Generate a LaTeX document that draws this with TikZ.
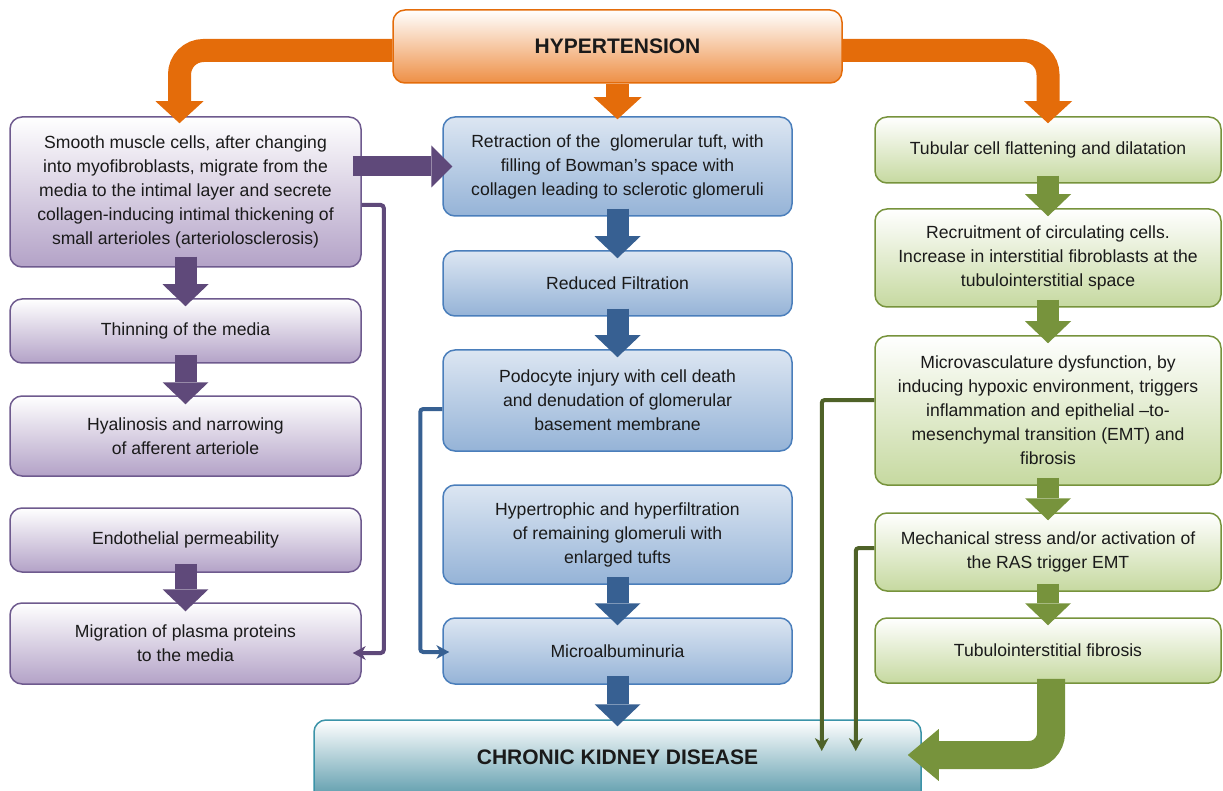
\documentclass[tikz,border=0pt]{standalone}
\usepackage{fontspec}
\setmainfont{Liberation Sans}
\usetikzlibrary{arrows.meta}
\definecolor{txt}{HTML}{1A1A1A}
\definecolor{orng}{HTML}{E46C0A}
\definecolor{hbot}{HTML}{EE8F45}
\definecolor{pbord}{HTML}{6E5A8E}
\definecolor{pbot}{HTML}{B3A2C7}
\definecolor{parr}{HTML}{5F497A}
\definecolor{bbord}{HTML}{4A7EBB}
\definecolor{btop}{HTML}{DCE6F2}
\definecolor{bbot}{HTML}{95B3D7}
\definecolor{barr}{HTML}{376092}
\definecolor{gbord}{HTML}{77933C}
\definecolor{gbot}{HTML}{C6D9A0}
\definecolor{garr}{HTML}{77933C}
\definecolor{cGthin}{HTML}{4F6228}
\definecolor{cbord}{HTML}{3B93A8}
\definecolor{cbot}{HTML}{2E7F94}
\tikzset{
 box/.style={rounded corners=12pt, line width=1.5pt, align=center, font=\fontsize{17.6}{24}\selectfont, text=txt, inner sep=0pt},
 pbox/.style={box, draw=pbord, top color=white, bottom color=pbot, minimum width=351pt},
 bbox/.style={box, draw=bbord, top color=btop, bottom color=bbot, minimum width=349pt},
 gbox/.style={box, draw=gbord, top color=white, bottom color=gbot, minimum width=346pt},
 hbox/.style={box, draw=orng, top color=white, bottom color=hbot, minimum width=449pt, minimum height=73pt, font=\bfseries\fontsize{21}{25}\selectfont},
 cbox/.style={box, draw=cbord, top color=white, bottom color=cbot, minimum width=607pt, minimum height=100pt, font=\bfseries\fontsize{21}{25}\selectfont, text height=15pt, text depth=26pt},
 blk/.style={line width=22pt, -{Triangle[length=22pt,width=46pt,line width=0pt]}},
 parrow/.style={blk, draw=parr},
 barrow/.style={blk, draw=barr},
 garrow/.style={blk, draw=garr},
 oarrow/.style={line width=23pt, draw=orng, -{Triangle[length=22pt,width=48pt,line width=0pt]}},
 link/.style={line width=4pt, rounded corners=3pt, -{Stealth[length=13pt,width=14pt,inset=4pt,line width=0pt]}},
}
\begin{document}
\begin{tikzpicture}[x=1pt,y=-1pt]
\path[use as bounding box] (0,0) rectangle (1223,791);
\clip (0,0) rectangle (1223,791);

% left column
\node[pbox, minimum height=150pt] (L1) at (185.5,192) {Smooth muscle cells, after changing\\ into myofibroblasts, migrate from the\\ media to the intimal layer and secrete\\ collagen-inducing intimal thickening of\\ small arterioles (arteriolosclerosis)};
\node[pbox, minimum height=64pt] (L2) at (185.5,331) {Thinning of the media};
\node[pbox, minimum height=80pt] (L3) at (185.5,436) {Hyalinosis and narrowing\\ of afferent arteriole};
\node[pbox, minimum height=64pt] (L4) at (185.5,540) {Endothelial permeability};
\node[pbox, minimum height=81pt] (L5) at (185.5,643.5) {Migration of plasma proteins\\ to the media};

% middle column
\node[bbox, minimum height=99pt] (M1) at (617.5,166.5) {Retraction of the~ glomerular tuft, with\\ filling of Bowman’s space with\\ collagen leading to sclerotic glomeruli};
\node[bbox, minimum height=65pt] (M2) at (617.5,283.5) {Reduced Filtration};
\node[bbox, minimum height=101pt] (M3) at (617.5,400.5) {Podocyte injury with cell death\\ and denudation of glomerular\\ basement membrane};
\node[bbox, minimum height=99pt] (M4) at (617.5,534.5) {Hypertrophic and hyperfiltration\\ of remaining glomeruli with\\ enlarged tufts};
\node[bbox, minimum height=66pt] (M5) at (617.5,651) {Microalbuminuria};

% right column
\node[gbox, minimum height=66pt] (R1) at (1048,150) {Tubular cell flattening and dilatation};
\node[gbox, minimum height=98pt] (R2) at (1048,258) {Recruitment of circulating cells.\\ Increase in interstitial fibroblasts at the\\ tubulointerstitial space};
\node[gbox, minimum height=149pt] (R3) at (1048,410.5) {Microvasculature dysfunction, by\\ inducing hypoxic environment, triggers\\ inflammation and epithelial –to-\\ mesenchymal transition (EMT) and\\ fibrosis};
\node[gbox, minimum height=78pt] (R4) at (1048,552) {Mechanical stress and/or activation of\\ the RAS trigger EMT};
\node[gbox, minimum height=65pt] (R5) at (1048,650.5) {Tubulointerstitial fibrosis};

% top and bottom
\node[hbox] (H) at (617.5,46.5) {HYPERTENSION};
\node[cbox] (CKD) at (617.5,770) {CHRONIC KIDNEY DISEASE};

% orange arrows from hypertension
\draw[oarrow, rounded corners=24pt] ([yshift=-4pt]H.west) -| ([xshift=-6pt,yshift=-7pt]L1.north);
\draw[oarrow, rounded corners=24pt] ([yshift=-4pt]H.east) -| ([yshift=-7pt]R1.north);
\draw[oarrow] (H.south) -- ([yshift=-3pt]M1.north);

% purple arrows
\draw[parrow, line width=20pt, -{Triangle[length=21pt,width=42pt,line width=0pt]}] ([xshift=-9pt]L1.east |- M1.west) -- ([xshift=10pt]M1.west);
\draw[parrow] ([yshift=11pt]L1.south) -- ([yshift=-8pt]L2.north);
\draw[parrow] ([yshift=9pt]L2.south) -- ([yshift=-9pt]L3.north);
\draw[parrow] ([yshift=9pt]L4.south) -- ([yshift=-9pt]L5.north);
\draw[link, draw=parr] ([yshift=-13pt]L1.east) -- ++(22,0) |- ([xshift=-9pt,yshift=-9.5pt]L5.east);

% blue arrows
\draw[barrow] ([yshift=8pt]M1.south) -- ([yshift=-8pt]M2.north);
\draw[barrow] ([yshift=8pt]M2.south) -- ([yshift=-8pt]M3.north);
\draw[barrow] ([yshift=8pt]M4.south) -- ([yshift=-8pt]M5.north);
\draw[barrow] ([yshift=9pt]M5.south) -- ([yshift=-7pt]CKD.north);
\draw[link, draw=barr] ([yshift=-8.5pt]M3.west) -- ++(-22,0) |- ([xshift=7pt,yshift=-1pt]M5.west);

% green arrows
\draw[garrow] ([yshift=8pt]R1.south) -- ([yshift=-8pt]R2.north);
\draw[garrow] ([yshift=8pt]R2.south) -- ([yshift=-8pt]R3.north);
\draw[garrow] ([yshift=8pt]R3.south) -- ([yshift=-8pt]R4.north);
\draw[garrow] ([yshift=8pt]R4.south) -- ([yshift=-8pt]R5.north);
\draw[garrow, line width=28pt, rounded corners=22pt, -{Triangle[length=31pt,width=52pt,line width=0pt]}] ([xshift=3pt,yshift=5pt]R5.south) |- ([xshift=-14pt,yshift=15pt]CKD.east);
\draw[link, draw=cGthin] ([yshift=10.5pt]R3.west) -| ([xshift=-100pt,yshift=19pt]CKD.east);
\draw[link, draw=cGthin] ([yshift=4pt]R4.west) -| ([xshift=-66pt,yshift=19pt]CKD.east);
\end{tikzpicture}
\end{document}
